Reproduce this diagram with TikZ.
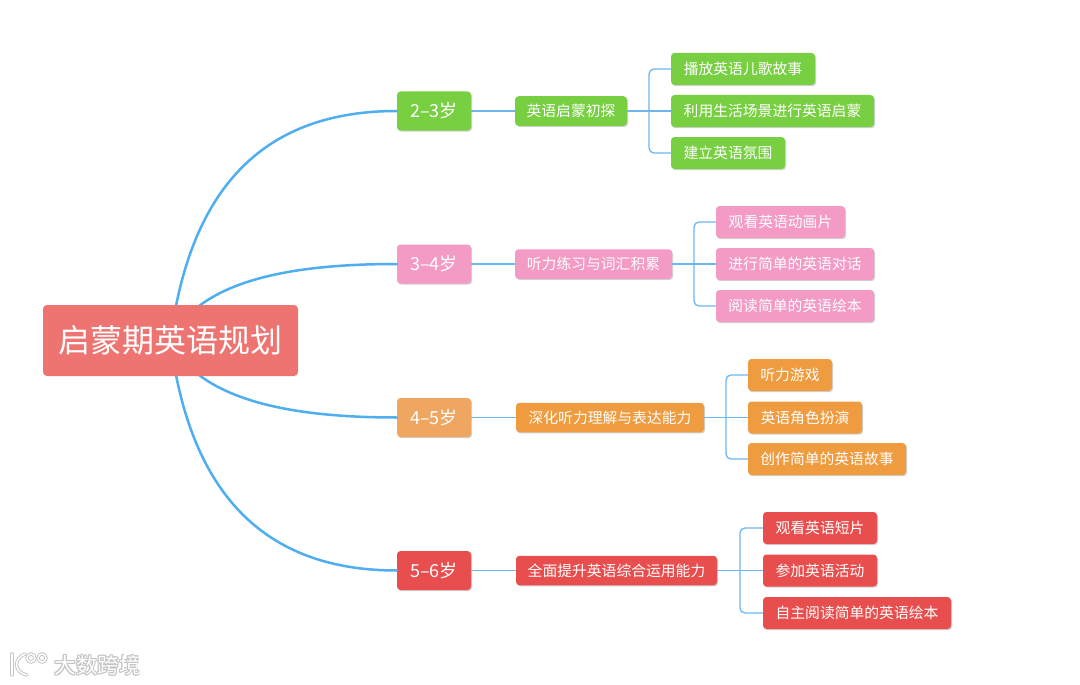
\documentclass[tikz,border=0pt]{standalone}
\usepackage{fontspec}
\setmainfont{Noto Sans CJK SC}
\usetikzlibrary{calc,shadows}
\definecolor{cgreen}{HTML}{78CF41}
\definecolor{cpink}{HTML}{F39AC5}
\definecolor{corangeA}{HTML}{EFA660}
\definecolor{corangeB}{HTML}{EF9B40}
\definecolor{cred}{HTML}{E84E4E}
\definecolor{croot}{HTML}{ED7470}
\definecolor{cmain}{HTML}{4FAEF0}
\definecolor{cthin}{HTML}{6DB6EF}
\definecolor{cmark}{HTML}{C4C4C4}
\tikzset{
  x=1pt,y=-1pt,
  box/.style={rounded corners=3.5pt,text=white,inner sep=0pt,align=center,
    drop shadow={shadow xshift=1pt,shadow yshift=-1.2pt,opacity=.18,fill=black}},
  rootbox/.style={rounded corners=4pt,fill=croot,text=white,inner sep=0pt,font=\fontsize{32}{36}\selectfont,minimum width=255pt,minimum height=71pt},
  agebox/.style={box,font=\fontsize{18}{22}\selectfont,minimum width=74pt,minimum height=39pt},
  midbox/.style={box,font=\fontsize{14.8}{18}\selectfont,minimum height=29.5pt},
  leafbox/.style={box,font=\fontsize{14.8}{18}\selectfont,minimum height=32pt},
  mainline/.style={draw=cmain,line width=2.5pt,line cap=round},
  thinline/.style={draw=cthin,line width=1.3pt},
  markpen/.style={draw=cmark,line width=3.4pt,line cap=round},
  marktop/.style={draw=white,line width=1.5pt,line cap=round},
  marktext/.style={font=\fontsize{21.5}{25}\selectfont,inner sep=0pt}
}
\newcommand{\bracketfrom}[5]{%
  \coordinate (m#2) at ($(#2.east)!0.5!(#4.west)$);
  \draw[thinline] (#1.east) -- (#2.west);
  \draw[thinline] (#2.east) -- (#4.west);
  \draw[thinline,rounded corners=5pt] (m#2) |- (#3.west);
  \draw[thinline,rounded corners=5pt] (m#2) |- (#5.west);
}
\begin{document}
\begin{tikzpicture}
\useasboundingbox (0,0) rectangle (1080,685);
\fill[white] (0,0) rectangle (1080,685);
\coordinate (r1) at (176,306);
\coordinate (r2) at (199,306);
\coordinate (r3) at (199,375);
\coordinate (r4) at (176,375);
% age nodes
\node[agebox,fill=cgreen] (a1) at (434,111) {2–3岁};
\node[agebox,fill=cpink] (a2) at (434,264) {3–4岁};
\node[agebox,fill=corangeA] (a3) at (434,417.5) {4–5岁};
\node[agebox,fill=cred] (a4) at (434,570.5) {5–6岁};
% mid nodes
\node[midbox,fill=cgreen,minimum width=112pt] (b1) at (571,111) {英语启蒙初探};
\node[midbox,fill=cpink,minimum width=157pt] (b2) at (593.5,264) {听力练习与词汇积累};
\node[midbox,fill=corangeB,minimum width=188pt] (b3) at (610,417.5) {深化听力理解与表达能力};
\node[midbox,fill=cred,minimum width=201pt] (b4) at (616.5,570.5) {全面提升英语综合运用能力};
% leaves
\node[leafbox,fill=cgreen,minimum width=144pt] (c11) at (743,69) {播放英语儿歌故事};
\node[leafbox,fill=cgreen,minimum width=203pt] (c12) at (772.5,111) {利用生活场景进行英语启蒙};
\node[leafbox,fill=cgreen,minimum width=114pt] (c13) at (728,153) {建立英语氛围};
\node[leafbox,fill=cpink,minimum width=129pt] (c21) at (780.5,222) {观看英语动画片};
\node[leafbox,fill=cpink,minimum width=158pt] (c22) at (795,264) {进行简单的英语对话};
\node[leafbox,fill=cpink,minimum width=158pt] (c23) at (795,306) {阅读简单的英语绘本};
\node[leafbox,fill=corangeB,minimum width=84pt] (c31) at (790,375) {听力游戏};
\node[leafbox,fill=corangeB,minimum width=114pt] (c32) at (805,417.5) {英语角色扮演};
\node[leafbox,fill=corangeB,minimum width=158pt] (c33) at (827,459) {创作简单的英语故事};
\node[leafbox,fill=cred,minimum width=114pt] (c41) at (820,528) {观看英语短片};
\node[leafbox,fill=cred,minimum width=114pt] (c42) at (820,570.5) {参加英语活动};
\node[leafbox,fill=cred,minimum width=188pt] (c43) at (857,613) {自主阅读简单的英语绘本};
% connectors
\bracketfrom{a1}{b1}{c11}{c12}{c13}
\bracketfrom{a2}{b2}{c21}{c22}{c23}
\bracketfrom{a3}{b3}{c31}{c32}{c33}
\bracketfrom{a4}{b4}{c41}{c42}{c43}
\draw[mainline] (r1) .. controls (205,160) and (290,111) .. (a1.west);
\draw[mainline] (r2) .. controls (240,275) and (310,264) .. (a2.west);
\draw[mainline] (r3) .. controls (240,406) and (310,417.5) .. (a3.west);
\draw[mainline] (r4) .. controls (205,521) and (290,570.5) .. (a4.west);
\node[rootbox] (root) at (170.5,340.5) {启蒙期英语规划};
% watermark
\foreach \dx/\dy/\n in {-1/0/a,1/0/b,0/-1/c,0/1/d,-.8/-.8/e,.8/-.8/f,-.8/.8/g,.8/.8/h}{
  \node[marktext,text=cmark] (wm\n) at (97.5+\dx,665.5+\dy) {大数跨境};
}
\node[marktext,text=white] (wm) at (97.5,665.5) {大数跨境};
\foreach \s in {markpen,marktop}{
  \draw[\s] (12,654) -- (12,675);
  \draw[\s] (25,654) .. controls (14,658) and (13,672) .. (27,675);
  \draw[\s] (31,658) circle[radius=4];
  \draw[\s] (42,658) circle[radius=4];
}
\end{tikzpicture}
\end{document}
